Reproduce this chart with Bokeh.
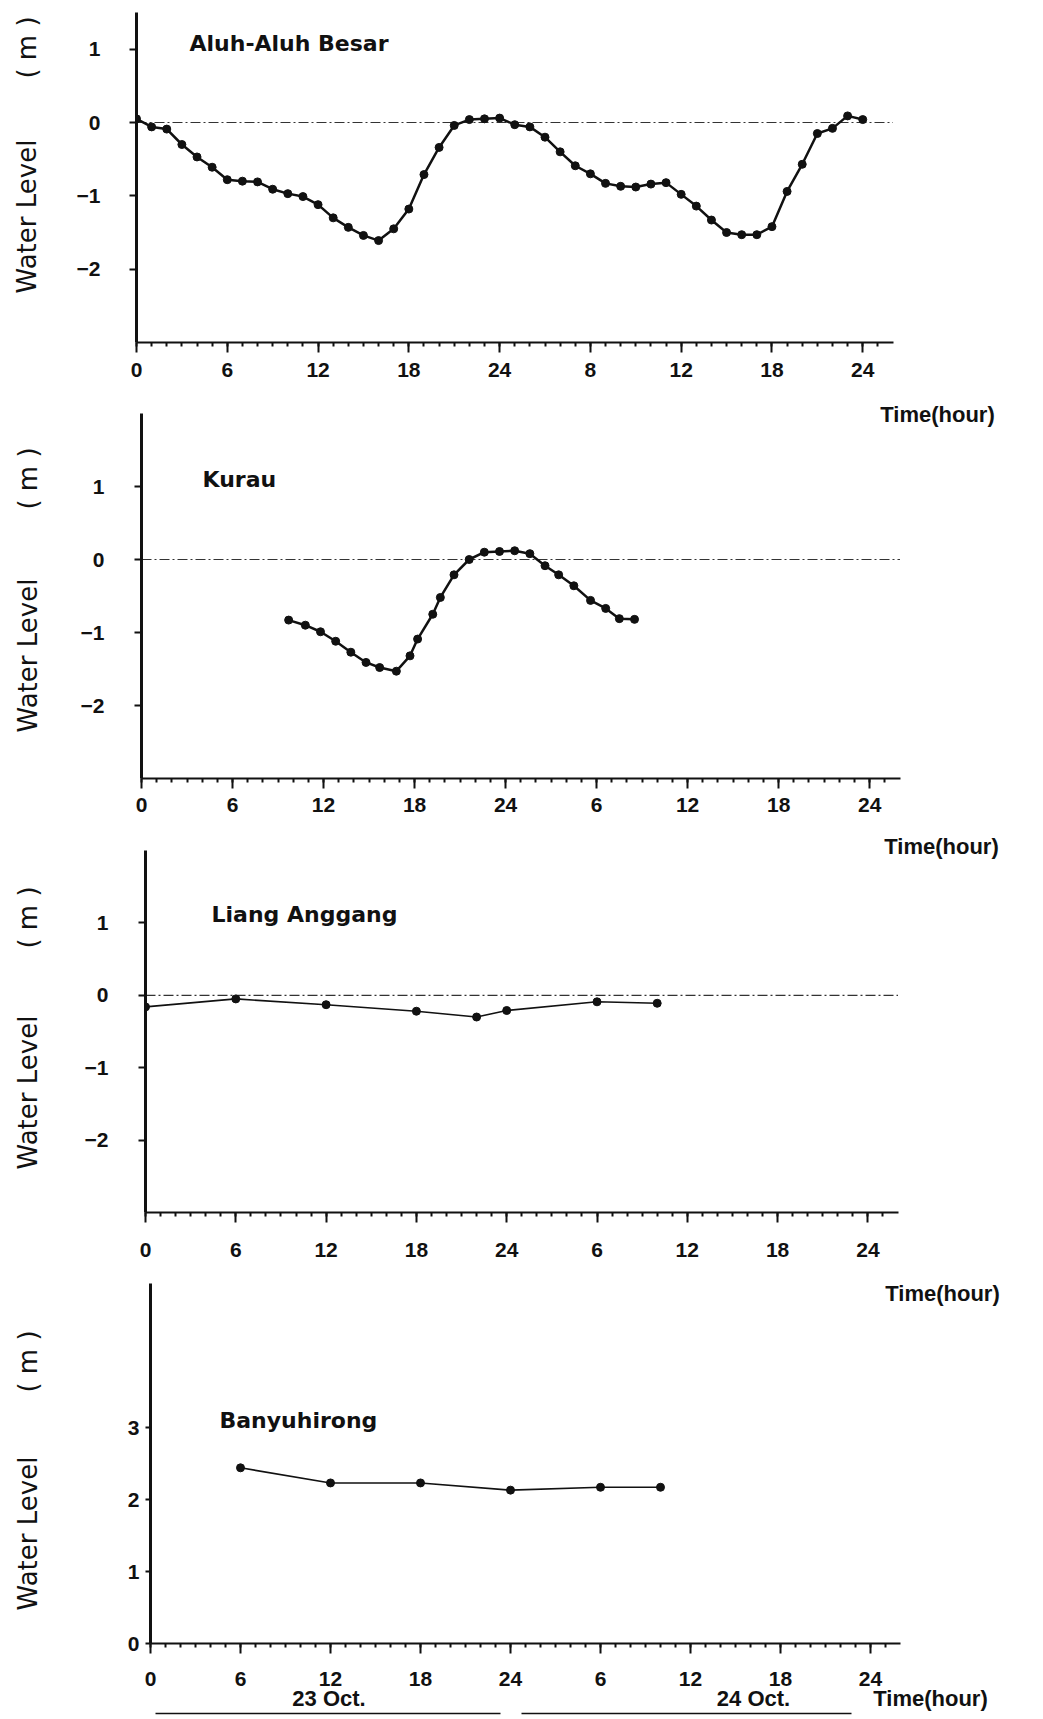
from bokeh.plotting import figure
from bokeh.layouts import column, row
from bokeh.models import Range1d, FixedTicker, Label, LinearAxis
from bokeh.embed import file_html
from bokeh.resources import INLINE

# ---------------- data ----------------
TICK_HOURS = [0, 6, 12, 18, 24, 30, 36, 42, 48]
MINOR_HOURS = list(range(0, 50))
TICK_LABELS = ["0", "6", "12", "18", "24", "6", "12", "18", "24"]
ALUH_TICK_LABELS = ["0", "6", "12", "18", "24", "8", "12", "18", "24"]
AXIS_END_HOUR = 50
ZERO_LEVEL = 0

aluh_hours = list(range(0, 49))
aluh_level = [0.05, -0.06, -0.09, -0.30, -0.47, -0.61, -0.78, -0.80, -0.81, -0.91,
              -0.97, -1.01, -1.12, -1.30, -1.43, -1.54, -1.61, -1.45, -1.18, -0.71,
              -0.34, -0.04, 0.04, 0.05, 0.06, -0.03, -0.06, -0.20, -0.40, -0.59,
              -0.70, -0.83, -0.87, -0.88, -0.84, -0.82, -0.98, -1.14, -1.33, -1.50,
              -1.53, -1.53, -1.42, -0.94, -0.57, -0.15, -0.08, 0.09, 0.04]

kurau_hours = [9.7, 10.8, 11.8, 12.8, 13.8, 14.8, 15.7, 16.8, 17.7, 18.2, 19.2, 19.7,
               20.6, 21.6, 22.6, 23.6, 24.6, 25.6, 26.6, 27.5, 28.5, 29.6, 30.6, 31.5, 32.5]
kurau_level = [-0.83, -0.90, -0.99, -1.12, -1.27, -1.41, -1.48, -1.53, -1.32, -1.09, -0.75, -0.52,
               -0.21, 0.00, 0.10, 0.11, 0.12, 0.08, -0.085, -0.21, -0.36, -0.56, -0.67, -0.81, -0.82]

liang_hours = [0, 6, 12, 18, 22, 24, 30, 34]
liang_level = [-0.16, -0.05, -0.13, -0.22, -0.30, -0.21, -0.09, -0.11]

banyu_hours = [6, 12, 18, 24, 30, 34]
banyu_level = [2.44, 2.23, 2.23, 2.13, 2.17, 2.17]

DATE_LABEL_HOURS = [11.9, 40.2, 52.0]
DATE_LABELS = ["23 Oct.", "24 Oct.", "Time(hour)"]
DATE_UNDERLINES = [(0.3, 23.3), (24.7, 46.7)]

# ---------------- style / layout ----------------
INK = "#111111"
TICK_FONT = "Liberation Sans"
TITLE_FONT = "DejaVu Sans"
YLABEL_FONT = "DejaVu Sans"
PAGE_W = 1043
MAIN_LEFT = 76
RIGHT = 3


def add_label(p, text, x, y, size, font, style="bold", align="left", angle=0.0):
    p.add_layout(Label(x=x, y=y, x_units="screen", y_units="screen", text=text,
                       text_font=font, text_font_size=f"{size}px", text_font_style=style,
                       text_align=align, text_baseline="middle", angle=angle,
                       text_color=INK))


def style_xaxis(xa, labels, standoff):
    xa.ticker = FixedTicker(ticks=TICK_HOURS, minor_ticks=MINOR_HOURS)
    xa.bounds = (0, AXIS_END_HOUR)
    xa.major_label_overrides = {h: s for h, s in zip(TICK_HOURS, labels)}
    xa.axis_line_width = 2
    xa.axis_line_color = INK
    xa.major_tick_line_width = 2
    xa.minor_tick_line_width = 2
    xa.major_tick_line_color = INK
    xa.minor_tick_line_color = INK
    xa.major_tick_in = 0
    xa.major_tick_out = 10
    xa.minor_tick_in = 0
    xa.minor_tick_out = 4
    xa.major_label_standoff = standoff
    xa.major_label_text_font = TICK_FONT
    xa.major_label_text_font_style = "bold"
    xa.major_label_text_font_size = "21px"
    xa.major_label_text_color = INK


def blank_axis(ax):
    ax.axis_line_color = None
    ax.major_tick_line_color = None
    ax.minor_tick_line_color = None
    ax.major_tick_out = 0
    ax.major_tick_in = 0
    ax.minor_tick_out = 0
    ax.minor_tick_in = 0


def make_panel(c):
    side_w = c["axis_x"] - MAIN_LEFT
    main_w = PAGE_W - side_w
    fig_h = c["fig_bot"] - c["fig_top"]
    frame_w = main_w - MAIN_LEFT - RIGHT
    x_end = frame_w / c["pph"]
    y0, y1 = c["yr"]
    ppm = (c["axis_bot"] - c["axis_top"]) / (y1 - y0)
    frame_h = c["axis_bot"] - c["frame_top"]
    y_end = y0 + frame_h / ppm

    p = figure(width=main_w, height=fig_h,
               x_range=Range1d(0, x_end), y_range=Range1d(y0, y_end),
               output_backend="svg", toolbar_location=None,
               min_border_left=MAIN_LEFT, min_border_right=RIGHT,
               min_border_top=c["frame_top"] - c["fig_top"],
               min_border_bottom=c["fig_bot"] - c["axis_bot"])
    p.outline_line_color = None
    p.grid.visible = False

    style_xaxis(p.xaxis[0], c["xlabels"], c["xstand"])

    ya = p.yaxis[0]
    ya.ticker = FixedTicker(ticks=c["yticks"], minor_ticks=[])
    ya.bounds = (y0, y1)
    ya.axis_line_width = 3
    ya.axis_line_color = INK
    ya.major_tick_line_width = 2
    ya.major_tick_line_color = INK
    ya.minor_tick_line_color = None
    ya.major_tick_in = 0
    ya.major_tick_out = c["ytick_out"]
    ya.major_label_standoff = c["ystand"]
    ya.major_label_text_font = TICK_FONT
    ya.major_label_text_font_style = "bold"
    ya.major_label_text_font_size = "21px"
    ya.major_label_text_color = INK

    if c["zero"]:
        p.segment(x0=0, x1=AXIS_END_HOUR, y0=ZERO_LEVEL, y1=ZERO_LEVEL,
                  line_color="#333333", line_width=1.2, line_dash="10 3 2 3")

    p.line(c["x"], c["y"], line_color=INK, line_width=c["lw"])
    p.scatter(c["x"], c["y"], marker="circle", size=c["ms"],
              fill_color=INK, line_color=INK)

    # panel name (page coords -> frame screen coords)
    tx, ty = c["title"]
    add_label(p, c["name"], tx - c["axis_x"], c["axis_bot"] - ty, 22, TITLE_FONT)

    # "Time(hour)" caption of the panel above, drawn in this frame
    if c.get("prev_time"):
        px_, py_ = c["prev_time"]
        add_label(p, "Time(hour)", px_ - c["axis_x"], c["axis_bot"] - py_, 22,
                  TICK_FONT, align="center")

    # side strip with the rotated y label (its frame is aligned with the main frame)
    s = figure(width=side_w, height=fig_h, x_range=Range1d(0, side_w),
               y_range=Range1d(0, fig_h), x_axis_type=None, y_axis_type=None,
               output_backend="svg", toolbar_location=None,
               min_border_left=0, min_border_right=0, min_border_top=0, min_border_bottom=0)
    s.outline_line_color = None
    s.grid.visible = False
    lx, wl_y, m_y = c["ylab"]
    add_label(s, "Water Level", lx, c["axis_bot"] - wl_y, 26, YLABEL_FONT, style="normal",
              align="center", angle=1.5707963)
    add_label(s, "( m )", lx, c["axis_bot"] - m_y, 26, YLABEL_FONT, style="normal",
              align="center", angle=1.5707963)
    return s, p


cfgs = [
    dict(name="Aluh-Aluh Besar", x=aluh_hours, y=aluh_level,
         fig_top=0, fig_bot=395, frame_top=12, axis_top=12, axis_bot=342,
         axis_x=136, pph=15.13, yr=(-3, 1.5), yticks=[-2, -1, 0, 1], xlabels=ALUH_TICK_LABELS,
         xstand=10, ystand=29, ytick_out=7, zero=True, lw=2.5, ms=8,
         title=(189, 43), ylab=(26, 216, 47)),
    dict(name="Kurau", x=kurau_hours, y=kurau_level,
         fig_top=395, fig_bot=828, frame_top=395, axis_top=413, axis_bot=778,
         axis_x=141, pph=15.17, yr=(-3, 2), yticks=[-2, -1, 0, 1], xlabels=TICK_LABELS,
         xstand=9, ystand=30, ytick_out=7, zero=True, lw=2.5, ms=8,
         title=(202, 479), ylab=(27, 655, 478), prev_time=(937, 414)),
    dict(name="Liang Anggang", x=liang_hours, y=liang_level,
         fig_top=828, fig_bot=1272, frame_top=828, axis_top=850, axis_bot=1212,
         axis_x=145, pph=15.05, yr=(-3, 2), yticks=[-2, -1, 0, 1], xlabels=TICK_LABELS,
         xstand=20, ystand=30, ytick_out=7, zero=True, lw=1.6, ms=8,
         title=(211, 914), ylab=(27, 1092, 917), prev_time=(941, 846)),
    dict(name="Banyuhirong", x=banyu_hours, y=banyu_level,
         fig_top=1272, fig_bot=1719, frame_top=1272, axis_top=1283, axis_bot=1643,
         axis_x=150, pph=15.0, yr=(0, 5), yticks=[0, 1, 2, 3], xlabels=TICK_LABELS,
         xstand=18, ystand=6, ytick_out=5, zero=False, lw=1.6, ms=8,
         title=(219, 1420), ylab=(27, 1533, 1361), prev_time=(942, 1293)),
]

rows = []
mains = []
for c in cfgs:
    s, p = make_panel(c)
    mains.append(p)
    rows.append(row(s, p, spacing=0))

# extra axes below the last panel: date captions, then the two underlines
p4 = mains[3]
date_axis = LinearAxis(ticker=FixedTicker(ticks=DATE_LABEL_HOURS, minor_ticks=[]),
                       major_label_overrides={h: t for h, t in zip(DATE_LABEL_HOURS, DATE_LABELS)},
                       bounds=(0, 60))
blank_axis(date_axis)
date_axis.major_label_standoff = -3
date_axis.major_label_text_font = TICK_FONT
date_axis.major_label_text_font_style = "bold"
date_axis.major_label_text_font_size = "22px"
date_axis.major_label_text_color = INK
p4.add_layout(date_axis, "below")

for start, end in DATE_UNDERLINES:
    ul = LinearAxis(ticker=FixedTicker(ticks=[], minor_ticks=[]), bounds=(start, end))
    blank_axis(ul)
    ul.axis_line_color = INK
    ul.axis_line_width = 1.5
    ul.major_label_standoff = 0
    ul.major_label_text_font_size = "0px"
    p4.add_layout(ul, "below")

layout = column(*rows, spacing=0)
open("out.html", "w").write(file_html(layout, INLINE))
